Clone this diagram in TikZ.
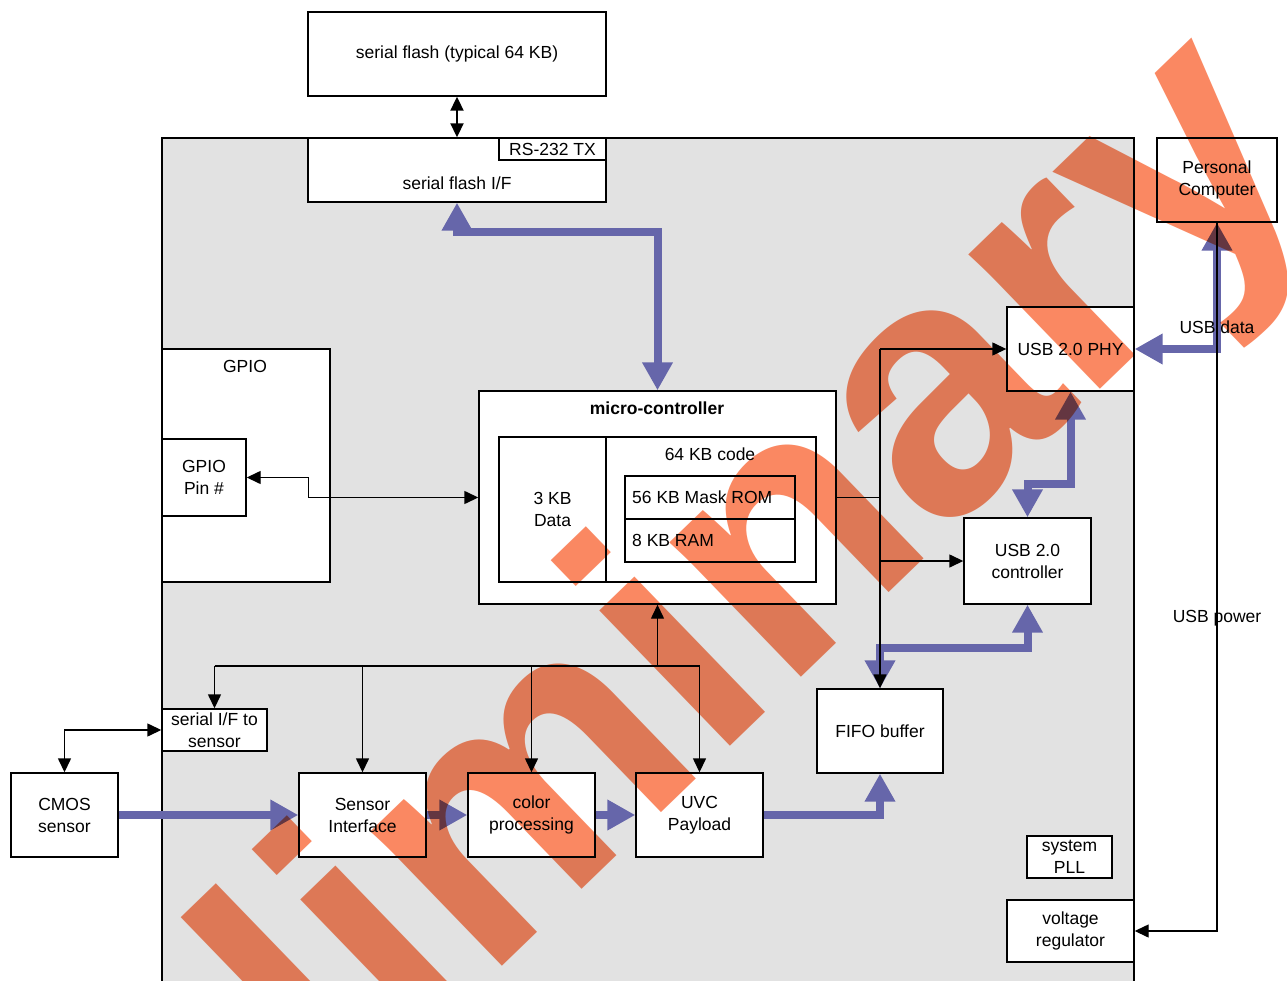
\documentclass[tikz,border=0pt]{standalone}
\usepackage{fontspec}
\setmainfont{Liberation Sans}
\usetikzlibrary{arrows.meta}
\definecolor{blu}{RGB}{102,102,170}
\definecolor{chipgray}{RGB}{226,226,226}
\definecolor{wmorange}{RGB}{250,136,98}
\newcommand{\dfont}{\fontsize{17.5}{22}\selectfont}
\newcommand{\wmfont}{\bfseries\fontsize{356}{400}\selectfont}
% #1 extra style, #2 name, #3 x1, #4 y1, #5 x2, #6 y2, #7 text
\newcommand{\bx}[7]{%
  \node[box,#1,minimum width={(#5-#3)*1pt},minimum height={(#6-#4)*1pt}] (#2) at ({(#3+#5)/2},{(#4+#6)/2}) {#7};}
\begin{document}
\begin{tikzpicture}[x=1pt,y=-1pt,
  box/.style={draw=black,fill=white,line width=1.4pt,inner sep=0pt,align=center,font=\dfont},
  txt/.style={inner sep=0pt,align=center,font=\dfont},
  wire/.style={draw=black,line width=1.4pt},
  onetip/.style={-{Triangle[length=14pt,width=13pt]}},
  twotips/.style={{Triangle[length=14pt,width=13pt]}-{Triangle[length=14pt,width=13pt]}},
  bflow/.style={draw=blu,line width=8pt,-{Triangle[length=28pt,width=29pt]}},
  bflowtwo/.style={draw=blu,line width=8pt,{Triangle[length=28pt,width=29pt]}-{Triangle[length=28pt,width=29pt]}},
]
\useasboundingbox (0,0) rectangle (1287,981);
\clip (0,0) rectangle (1287,981);
\fill[white] (0,0) rectangle (1287,981);
% chip
\bx{fill=chipgray}{chip}{162}{138}{1134}{1000}{}
% boxes
\bx{}{sflash}{308}{12}{606}{96}{serial flash (typical 64 KB)}
\bx{}{sfif}{308}{138}{606}{202}{}
\node[txt] (sfift) at (457,183) {serial flash I/F};
\bx{}{rs}{499}{138}{606}{160}{RS-232 TX}
\bx{}{pc}{1157}{138}{1277}{222}{Personal\\Computer}
\bx{}{phy}{1007}{307}{1134}{391}{USB 2.0 PHY}
\bx{}{gpio}{162}{349}{330}{582}{}
\node[txt] (gpiot) at (245,366) {GPIO};
\bx{}{pin}{162}{439}{246}{516}{GPIO\\Pin \#}
\bx{}{mc}{479}{391}{836}{604}{}
\node[txt,font=\dfont\bfseries] (mct) at (657,408) {micro-controller};
\bx{}{dmem}{499}{437}{606}{582}{3 KB\\Data}
\bx{}{cmem}{606}{437}{816}{582}{}
\node[txt] (codet) at (710,454) {64 KB code};
\bx{}{rom}{625}{476}{795}{519}{}
\node[txt,anchor=west] (romt) at (632,497) {56 KB Mask ROM};
\bx{}{ram}{625}{519}{795}{562}{}
\node[txt,anchor=west] (ramt) at (632,540) {8 KB RAM};
\bx{}{usbc}{964}{518}{1091}{604}{USB 2.0\\controller}
\bx{}{fifo}{817}{689}{943}{773}{FIFO buffer}
\bx{}{sis}{162}{709}{267}{751}{serial I/F to\\sensor}
\bx{}{cmos}{11}{773}{118}{857}{CMOS\\sensor}
\bx{}{sens}{299}{773}{426}{857}{Sensor\\Interface}
\bx{}{color}{468}{773}{595}{857}{color\\processing}
\bx{}{uvc}{636}{773}{763}{857}{UVC\\Payload}
\bx{}{pll}{1027}{836}{1112}{878}{system\\PLL}
\bx{}{vreg}{1007}{900}{1134}{962}{voltage\\regulator}
% blue data paths
\draw[bflowtwo] (sfif.south) -- ++(0,29) -| (mc.north);
\draw[bflowtwo] (pc.south) |- (phy.east);
\draw[bflowtwo] (usbc.north) -- ++(0,-33) -| (phy.south);
\draw[bflowtwo] (usbc.south) -- ++(0,43) -| (fifo.north);
\draw[bflow] (cmos.east) -- (sens.west);
\draw[bflow] (sens.east) -- (color.west);
\draw[bflow] (color.east) -- (uvc.west);
\draw[bflow] (uvc.east) -| (fifo.south);
% black control lines
\draw[wire,line width=2pt,twotips] (sflash.south) -- (sfif.north);
\draw[wire,onetip] (pc.south) |- (vreg.east);
\node[txt] (usbdata) at (1217,327) {USB data};
\node[txt] (usbpow) at (1217,618) {USB power};
\draw[wire,twotips] (pin.east) -- ++(62,0) |- (mc.west);
\draw[wire] (mc.east) -- (mc.east -| fifo.north);
\draw[wire,onetip] (phy.west -| fifo.north) -- (fifo.north);
\draw[wire,onetip] (phy.west -| fifo.north) -- (phy.west);
\draw[wire,onetip] (usbc.west -| fifo.north) -- (usbc.west);
\coordinate (hub) at (657.5,666);
\draw[wire,onetip] (hub) -- (mc.south);
\draw[wire] (sis.north |- hub) -- (uvc.north |- hub);
\draw[wire,onetip] (sis.north |- hub) -- (sis.north);
\draw[wire,onetip] (sens.north |- hub) -- (sens.north);
\draw[wire,onetip] (color.north |- hub) -- (color.north);
\draw[wire,onetip] (uvc.north |- hub) -- (uvc.north);
\draw[wire,twotips] (cmos.north) |- (sis.west);
% watermark
\begin{scope}[blend mode=multiply]
\node[font=\wmfont,text=wmorange,rotate=44,anchor=base,inner sep=0pt] (wm) at (634,839) {preliminary};
\end{scope}
\end{tikzpicture}
\end{document}
